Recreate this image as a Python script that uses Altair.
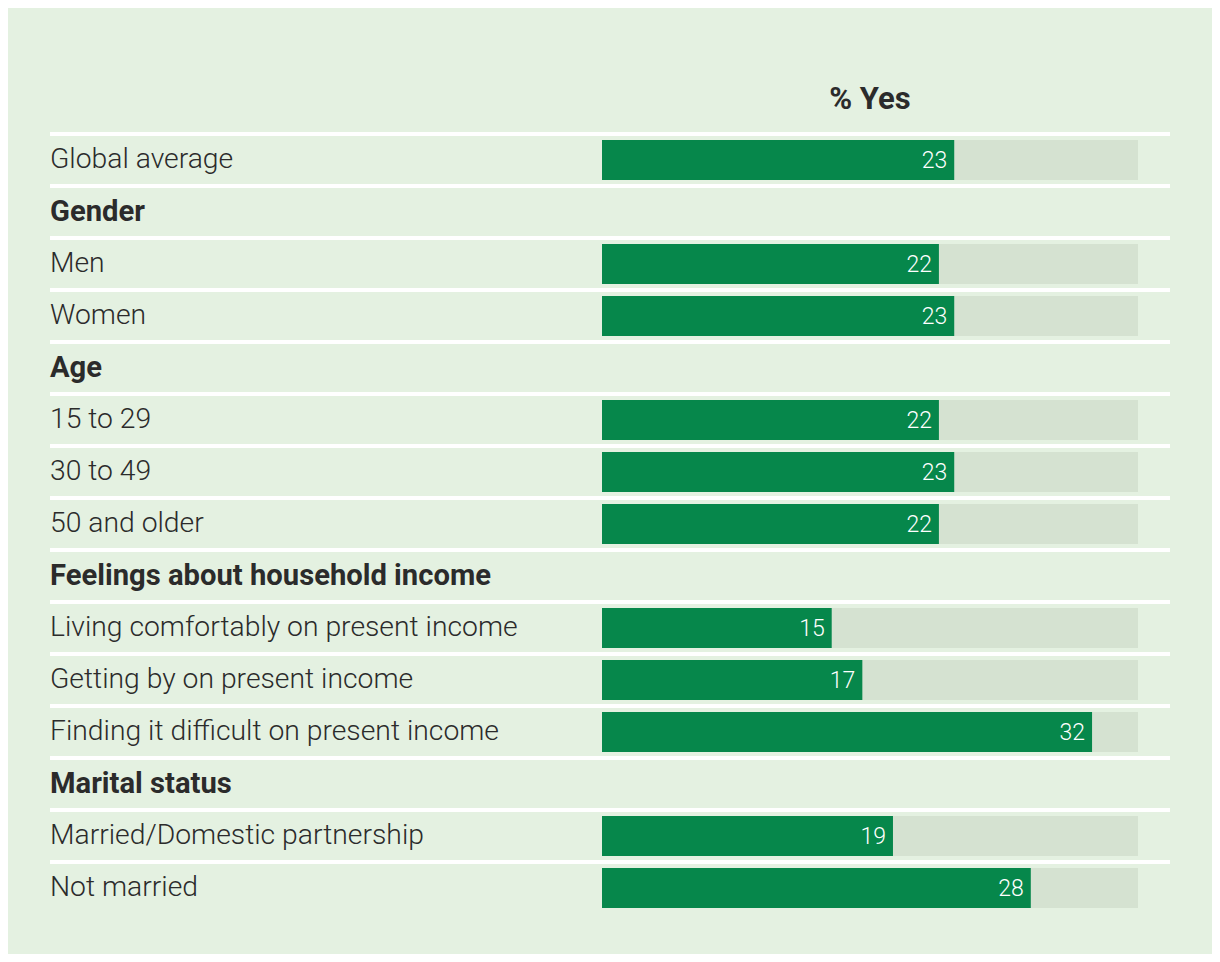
import altair as alt
import pandas as pd

rows = [
    "Global average", "Gender", "Men", "Women", "Age", "15 to 29", "30 to 49",
    "50 and older", "Feelings about household income",
    "Living comfortably on present income", "Getting by on present income",
    "Finding it difficult on present income", "Marital status",
    "Married/Domestic partnership", "Not married",
]
values = [23, None, 22, 23, None, 22, 23, 22, None, 15, 17, 32, None, 19, 28]
headers = [False, True, False, False, True, False, False, False, True,
           False, False, False, True, False, False]
scale_max = 35
column_title = "% Yes"

df = pd.DataFrame({
    "idx": list(range(len(rows))),
    "label": rows,
    "value": values,
    "header": headers,
})
df["base"] = 0
df["full"] = scale_max

GREEN = "#06874b"
TRACK = "#d5e2d1"
BG = "#e4f1e1"
TEXT = "#2b2b2b"
FONT = "Roboto"

W, H = 1120, 780
yscale = alt.Scale(paddingInner=0, paddingOuter=0)
xscale = alt.Scale(domain=[0, scale_max], range=[552, 1088])

base = alt.Chart(df)
Y = alt.Y("idx:O", axis=None, scale=yscale)

rules = base.mark_rule(color="white", strokeWidth=4).encode(
    y=alt.Y("idx:O", axis=None, scale=yscale, bandPosition=0),
    x=alt.value(0),
    x2=alt.value(W),
)

data_rows = base.transform_filter("!datum.header")

track = data_rows.mark_bar(color=TRACK, size=40).encode(
    y=Y,
    x=alt.X("base:Q", scale=xscale, axis=None),
    x2="full:Q",
)

bars = data_rows.mark_bar(color=GREEN, size=40).encode(
    y=Y,
    x=alt.X("base:Q", scale=xscale, axis=None),
    x2="value:Q",
)

vals = data_rows.mark_text(
    align="right", baseline="middle", dx=-7, dy=1, color="white",
    font=FONT, fontSize=23, fontWeight=300,
).encode(
    y=Y,
    x=alt.X("value:Q", scale=xscale, axis=None),
    text=alt.Text("value:Q", format="d"),
)

labels = data_rows.mark_text(
    align="left", baseline="middle", color=TEXT, font=FONT,
    fontSize=28.3, fontWeight=300, dy=0,
).encode(y=Y, x=alt.value(0), text="label:N")

head_labels = base.transform_filter("datum.header").mark_text(
    align="left", baseline="middle", color=TEXT, font=FONT,
    fontSize=29.2, fontWeight="bold",
).encode(y=Y, x=alt.value(0), text="label:N")

title_df = pd.DataFrame({"t": [column_title]})
title = alt.Chart(title_df).mark_text(
    align="center", baseline="middle", color=TEXT, font=FONT,
    fontSize=31, fontWeight="bold",
).encode(x=alt.value(820), y=alt.value(-34), text="t:N")

chart = alt.layer(rules, track, bars, vals, labels, head_labels, title).properties(
    width=W, height=H,
    autosize=alt.AutoSizeParams(type="none"),
    padding={"left": 42, "top": 126, "right": 42, "bottom": 40},
    background=BG,
).configure_view(stroke=None)

chart.save("out.html", embed_options={"renderer": "svg", "actions": False})
